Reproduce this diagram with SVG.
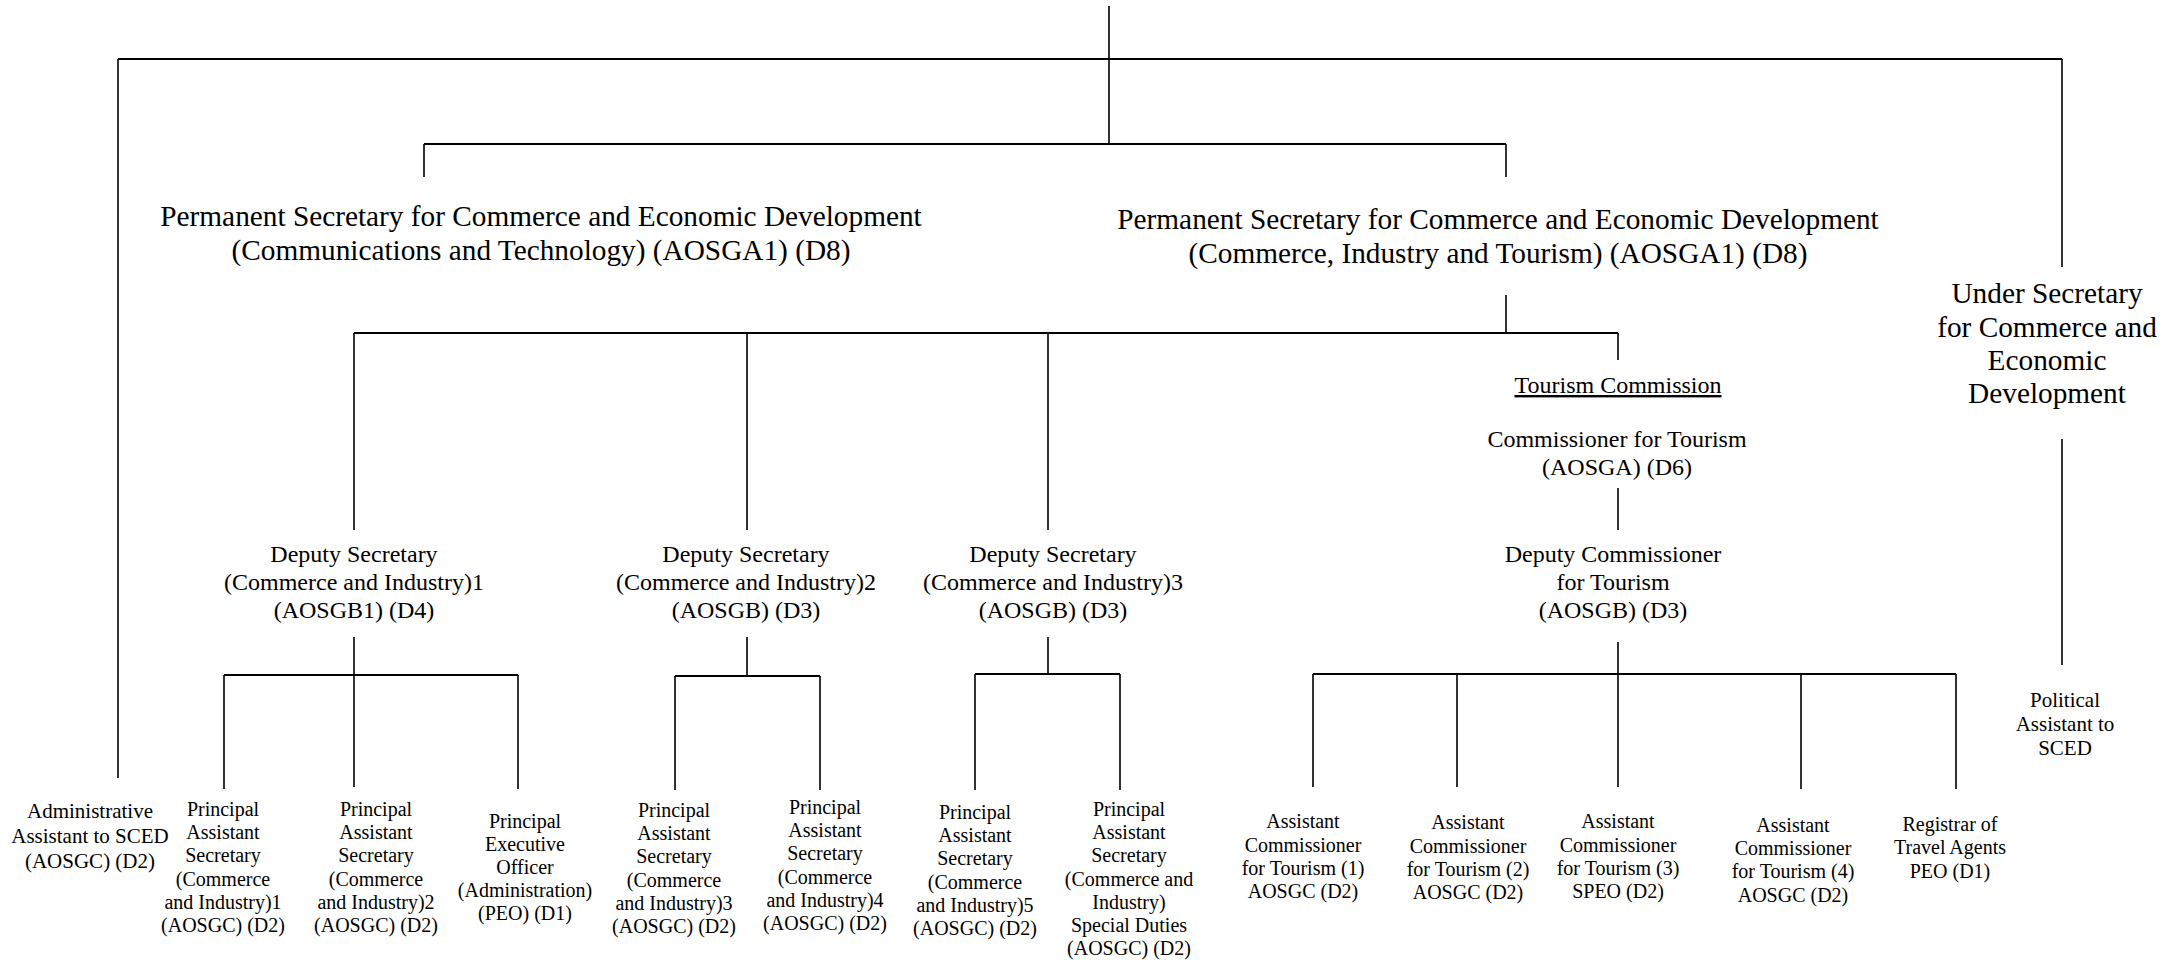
<svg xmlns="http://www.w3.org/2000/svg" width="2174" height="960" viewBox="0 0 2174 960">
<style>
text{fill:#000;text-anchor:middle}
.l{font-size:29.3px}
.m{font-size:24px}
.s{font-size:20px}
.s2{font-size:21px}
.h{stroke:#000;stroke-width:2.2;fill:none}
.v{stroke:#000;stroke-width:1.6;fill:none}
</style>
<rect width="2174" height="960" fill="#fff"/>
<g id="connectors">
<path class="h" d="M118 59H2062M424 144H1506M354 333H1618M224 675H518M675 676H820M975 674H1120M1313 674H1956"/>
<path class="v" d="M1109 6V144M118 59V778M2062 59V267M424 144V177M1506 144V177M1506 295V333M354 333V530M747 333V530M1048 333V530M1618 333V360M1618 488V530M2062 439V665M354 637V787M224 675V789M518 675V789M747 637V676M675 676V790M820 676V790M1048 637V674M975 674V790M1120 674V790M1618 642V787M1313 674V787M1457 674V787M1801 674V789M1956 674V789"/>
</g>
<g font-family="Liberation Serif">
<g id="ps-ct"><text class="l"><tspan x="541" y="226">Permanent Secretary for Commerce and Economic Development</tspan><tspan x="541" y="260">(Communications and Technology) (AOSGA1) (D8)</tspan></text></g>
<g id="ps-cit"><text class="l"><tspan x="1498" y="229">Permanent Secretary for Commerce and Economic Development</tspan><tspan x="1498" y="263">(Commerce, Industry and Tourism) (AOSGA1) (D8)</tspan></text></g>
<g id="under-sec"><text class="l"><tspan x="2047" y="303">Under Secretary</tspan><tspan x="2047" y="337">for Commerce and</tspan><tspan x="2047" y="370">Economic</tspan><tspan x="2047" y="403">Development</tspan></text></g>
<g id="ds1"><text class="m"><tspan x="354" y="562">Deputy Secretary</tspan><tspan x="354" y="590">(Commerce and Industry)1</tspan><tspan x="354" y="618">(AOSGB1) (D4)</tspan></text></g>
<g id="ds2"><text class="m"><tspan x="746" y="562">Deputy Secretary</tspan><tspan x="746" y="590">(Commerce and Industry)2</tspan><tspan x="746" y="618">(AOSGB) (D3)</tspan></text></g>
<g id="ds3"><text class="m"><tspan x="1053" y="562">Deputy Secretary</tspan><tspan x="1053" y="590">(Commerce and Industry)3</tspan><tspan x="1053" y="618">(AOSGB) (D3)</tspan></text></g>
<g id="tourism-commission"><text class="m" x="1618" y="393" text-decoration="underline">Tourism Commission</text></g>
<g id="commissioner"><text class="m"><tspan x="1617" y="447">Commissioner for Tourism</tspan><tspan x="1617" y="475">(AOSGA) (D6)</tspan></text></g>
<g id="dep-commissioner"><text class="m"><tspan x="1613" y="562">Deputy Commissioner</tspan><tspan x="1613" y="590">for Tourism</tspan><tspan x="1613" y="618">(AOSGB) (D3)</tspan></text></g>
<g id="admin-asst"><text class="s2"><tspan x="90" y="818">Administrative</tspan><tspan x="90" y="843">Assistant to SCED</tspan><tspan x="90" y="868">(AOSGC) (D2)</tspan></text></g>
<g id="pas1"><text class="s"><tspan x="223" y="816">Principal</tspan><tspan x="223" y="839">Assistant</tspan><tspan x="223" y="862">Secretary</tspan><tspan x="223" y="886">(Commerce</tspan><tspan x="223" y="909">and Industry)1</tspan><tspan x="223" y="932">(AOSGC) (D2)</tspan></text></g>
<g id="pas2"><text class="s"><tspan x="376" y="816">Principal</tspan><tspan x="376" y="839">Assistant</tspan><tspan x="376" y="862">Secretary</tspan><tspan x="376" y="886">(Commerce</tspan><tspan x="376" y="909">and Industry)2</tspan><tspan x="376" y="932">(AOSGC) (D2)</tspan></text></g>
<g id="peo"><text class="s"><tspan x="525" y="828">Principal</tspan><tspan x="525" y="851">Executive</tspan><tspan x="525" y="874">Officer</tspan><tspan x="525" y="897">(Administration)</tspan><tspan x="525" y="920">(PEO) (D1)</tspan></text></g>
<g id="pas3"><text class="s"><tspan x="674" y="817">Principal</tspan><tspan x="674" y="840">Assistant</tspan><tspan x="674" y="863">Secretary</tspan><tspan x="674" y="887">(Commerce</tspan><tspan x="674" y="910">and Industry)3</tspan><tspan x="674" y="933">(AOSGC) (D2)</tspan></text></g>
<g id="pas4"><text class="s"><tspan x="825" y="814">Principal</tspan><tspan x="825" y="837">Assistant</tspan><tspan x="825" y="860">Secretary</tspan><tspan x="825" y="884">(Commerce</tspan><tspan x="825" y="907">and Industry)4</tspan><tspan x="825" y="930">(AOSGC) (D2)</tspan></text></g>
<g id="pas5"><text class="s"><tspan x="975" y="819">Principal</tspan><tspan x="975" y="842">Assistant</tspan><tspan x="975" y="865">Secretary</tspan><tspan x="975" y="889">(Commerce</tspan><tspan x="975" y="912">and Industry)5</tspan><tspan x="975" y="935">(AOSGC) (D2)</tspan></text></g>
<g id="pas-sd"><text class="s"><tspan x="1129" y="816">Principal</tspan><tspan x="1129" y="839">Assistant</tspan><tspan x="1129" y="862">Secretary</tspan><tspan x="1129" y="886">(Commerce and</tspan><tspan x="1129" y="909">Industry)</tspan><tspan x="1129" y="932">Special Duties</tspan><tspan x="1129" y="955">(AOSGC) (D2)</tspan></text></g>
<g id="act1"><text class="s"><tspan x="1303" y="828">Assistant</tspan><tspan x="1303" y="852">Commissioner</tspan><tspan x="1303" y="875">for Tourism (1)</tspan><tspan x="1303" y="898">AOSGC (D2)</tspan></text></g>
<g id="act2"><text class="s"><tspan x="1468" y="829">Assistant</tspan><tspan x="1468" y="853">Commissioner</tspan><tspan x="1468" y="876">for Tourism (2)</tspan><tspan x="1468" y="899">AOSGC (D2)</tspan></text></g>
<g id="act3"><text class="s"><tspan x="1618" y="828">Assistant</tspan><tspan x="1618" y="852">Commissioner</tspan><tspan x="1618" y="875">for Tourism (3)</tspan><tspan x="1618" y="898">SPEO (D2)</tspan></text></g>
<g id="act4"><text class="s"><tspan x="1793" y="832">Assistant</tspan><tspan x="1793" y="855">Commissioner</tspan><tspan x="1793" y="878">for Tourism (4)</tspan><tspan x="1793" y="902">AOSGC (D2)</tspan></text></g>
<g id="registrar"><text class="s"><tspan x="1950" y="831">Registrar of</tspan><tspan x="1950" y="854">Travel Agents</tspan><tspan x="1950" y="878">PEO (D1)</tspan></text></g>
<g id="political-asst"><text class="s2"><tspan x="2065" y="707">Political</tspan><tspan x="2065" y="731">Assistant to</tspan><tspan x="2065" y="755">SCED</tspan></text></g>
</g>
</svg>
